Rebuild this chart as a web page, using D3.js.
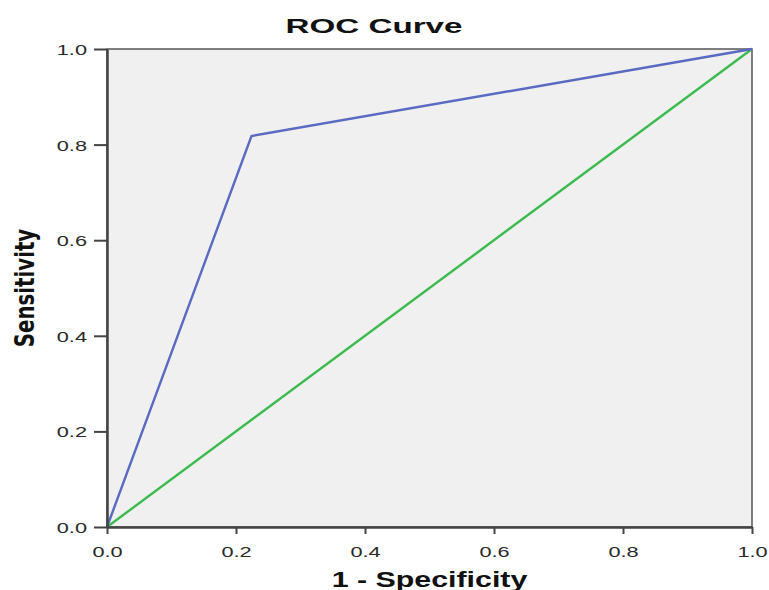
<!DOCTYPE html>
<html>
<head>
<meta charset="utf-8">
<script src="https://cdn.jsdelivr.net/npm/d3@7"></script>
<style>
body { margin:0; background:#fff; }
text { font-family: Arial, "Liberation Sans", sans-serif; }
</style>
</head>
<body>
<svg id="chart"></svg>
<script>
// roc curve points
var fpr = [0, 0.224, 1]
var tpr = [0, 0.818, 1]
// reference line
var refX = [0, 1]
var refY = [0, 1]
var tickVals = [0, 0.2, 0.4, 0.6, 0.8, 1.0]

var screen = {width:769, height:590}
var margins = {top:49, bottom:63, left:107, right:17}
var graph = {
    width: screen.width-margins.left-margins.right,
    height: screen.height-margins.top-margins.bottom}
var stretch = 1.45   // the picture is wider than it is tall

var svg = d3.select("#chart")
    .attr("width",screen.width)
    .attr("height",screen.height)

var xScale = d3.scaleLinear().domain([0,1]).range([0,graph.width])
var yScale = d3.scaleLinear().domain([0,1]).range([graph.height,0])

var g = svg.append("g")
    .attr("transform","translate("+margins.left+","+margins.top+")")

g.append("rect")
    .attr("width",graph.width)
    .attr("height",graph.height)
    .attr("fill","#f0f0f0")
    .attr("stroke","#555")
    .attr("stroke-width",1.5)

var lineGenerator = d3.line()
    .x(function(d){ return xScale(d[0]) })
    .y(function(d){ return yScale(d[1]) })

g.append("path")
    .datum(refX.map(function(x,i){ return [x,refY[i]] }))
    .attr("d",lineGenerator)
    .attr("fill","none")
    .attr("stroke","#3dba4e")
    .attr("stroke-width",2.4)

g.append("path")
    .datum(fpr.map(function(x,i){ return [x,tpr[i]] }))
    .attr("d",lineGenerator)
    .attr("fill","none")
    .attr("stroke","#5a69c2")
    .attr("stroke-width",2.4)

var xAxis = d3.axisBottom(xScale).tickValues(tickVals).tickFormat(d3.format(".1f")).tickSize(7).tickSizeOuter(0)
var yAxis = d3.axisLeft(yScale).tickValues(tickVals).tickFormat(d3.format(".1f")).tickSize(13).tickSizeOuter(0)

var xg = g.append("g")
    .attr("transform","translate(0,"+graph.height+")")
    .call(xAxis)
var yg = g.append("g").call(yAxis)

;[xg,yg].forEach(function(a){
    a.select(".domain").attr("stroke","#444").attr("stroke-width",2.5)
    a.selectAll(".tick line").attr("stroke","#444").attr("stroke-width",2)
    a.selectAll(".tick text").attr("fill","#2a2a2a").style("font-size","15px")
        .attr("transform","scale("+stretch+",1)")
})
xg.selectAll(".tick text").attr("y",30).attr("dy",0)
yg.selectAll(".tick text").attr("x",-20/stretch).attr("dy","0.36em")

svg.append("text")
    .text("ROC Curve")
    .attr("transform","translate(374,33) scale(1.58,1)")
    .attr("text-anchor","middle")
    .style("font-size","21px")
    .style("font-weight","bold")
    .attr("fill","#111")

svg.append("text")
    .text("1 - Specificity")
    .attr("transform","translate("+(margins.left+graph.width/2)+",587) scale(1.38,1)")
    .attr("text-anchor","middle")
    .style("font-size","22px")
    .style("font-weight","bold")
    .attr("fill","#111")

svg.append("text")
    .text("Sensitivity")
    .attr("transform","translate(34,"+(margins.top+graph.height/2)+") scale(1.2,1) rotate(-90)")
    .attr("text-anchor","middle")
    .style("font-size","22px")
    .style("font-weight","bold")
    .style("font-family","'DejaVu Sans Condensed', 'Liberation Sans Narrow', sans-serif")
    .attr("fill","#111")
</script>
</body>
</html>
